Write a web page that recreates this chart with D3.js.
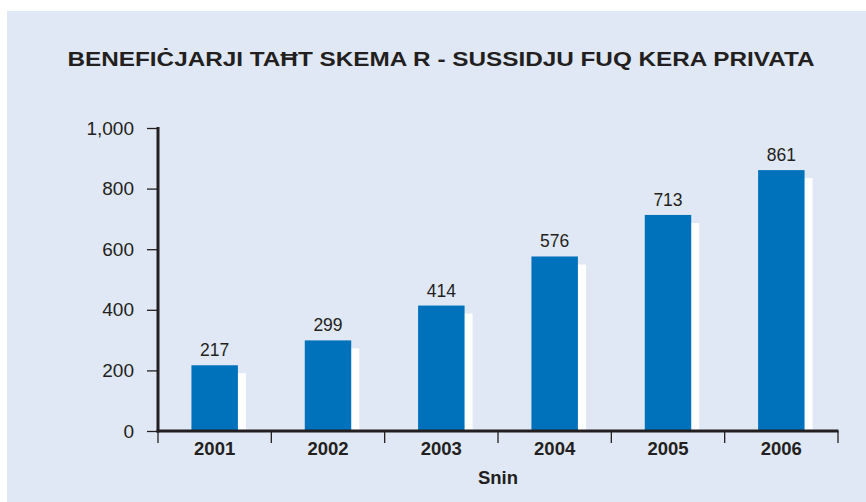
<!DOCTYPE html>
<html><head><meta charset="utf-8">
<script src="https://cdn.jsdelivr.net/npm/d3@7"></script>
<style>
html,body{margin:0;padding:0;background:#fff;}
svg{display:block;}
text{font-family:"Liberation Sans",Arial,Helvetica,sans-serif;fill:#231f20;}
</style></head>
<body>
<svg id="chart" width="866" height="502"></svg>
<script>
const title = "BENEFIĊJARJI TAĦT SKEMA R - SUSSIDJU FUQ KERA PRIVATA";
const xTitle = "Snin";
const years = ["2001","2002","2003","2004","2005","2006"];
const values = [217, 299, 414, 576, 713, 861];
const yTicks = [0, 200, 400, 600, 800, 1000];

const svg = d3.select("#chart");
svg.append("rect").attr("x",7).attr("y",11).attr("width",859).attr("height",491).attr("fill","#e1e8f5");

const x = d3.scaleBand().domain(years).range([158, 838]).paddingInner(0.59).paddingOuter(0.295);
const y = d3.scaleLinear().domain([0, 1000]).range([431, 128]);

// title
svg.append("text").attr("x",441).attr("y",66).attr("text-anchor","middle")
  .attr("font-size",20).attr("font-weight","bold").text(title)
  .attr("textLength",747).attr("lengthAdjust","spacingAndGlyphs");

// shadows
const off = 8;
svg.selectAll("rect.shadow").data(values).join("rect").attr("class","shadow")
  .attr("x",(d,i)=>x(years[i])+off).attr("y",d=>y(d)+off)
  .attr("width",x.bandwidth()).attr("height",d=>Math.max(0,y(0)-y(d)-off))
  .attr("fill","#ffffff");
// bars
svg.selectAll("rect.bar").data(values).join("rect").attr("class","bar")
  .attr("x",(d,i)=>x(years[i])).attr("y",d=>y(d))
  .attr("width",x.bandwidth()).attr("height",d=>y(0)-y(d))
  .attr("fill","#0072bc");
// value labels
svg.selectAll("text.val").data(values).join("text").attr("class","val")
  .attr("x",(d,i)=>x(years[i])+x.bandwidth()/2).attr("y",d=>y(d)-9)
  .attr("text-anchor","middle").attr("font-size",17.5).text(d=>d3.format(",")(d));

// y axis
const yAxis = svg.append("g").attr("transform","translate(158,0)")
  .call(d3.axisLeft(y).tickValues(yTicks).tickFormat(d3.format(",")).tickSize(11).tickPadding(13));
yAxis.select(".domain").remove();
yAxis.selectAll(".tick line").attr("stroke","#231f20").attr("stroke-width",1.3);
yAxis.selectAll(".tick text").attr("font-size",19).attr("fill","#231f20").attr("font-family","Liberation Sans, Arial, sans-serif");
svg.append("line").attr("x1",158).attr("x2",158).attr("y1",127).attr("y2",432.5)
  .attr("stroke","#231f20").attr("stroke-width",3);

// x axis
const bounds = [158].concat(years.map(d=>x(d)-x.step()*x.paddingInner()/2 + x.step()));
svg.selectAll("line.xt").data(bounds).join("line").attr("class","xt")
  .attr("x1",d=>d).attr("x2",d=>d).attr("y1",431).attr("y2",443)
  .attr("stroke","#231f20").attr("stroke-width",1.3);
svg.append("line").attr("x1",156.5).attr("x2",838.5).attr("y1",431).attr("y2",431)
  .attr("stroke","#231f20").attr("stroke-width",3);
svg.selectAll("text.cat").data(years).join("text").attr("class","cat")
  .attr("x",d=>x(d)+x.bandwidth()/2).attr("y",455).attr("text-anchor","middle")
  .attr("font-size",18.5).attr("font-weight","bold").text(d=>d);
svg.append("text").attr("x",498).attr("y",484).attr("text-anchor","middle")
  .attr("font-size",18.5).attr("font-weight","bold").text(xTitle);
</script>
</body></html>
